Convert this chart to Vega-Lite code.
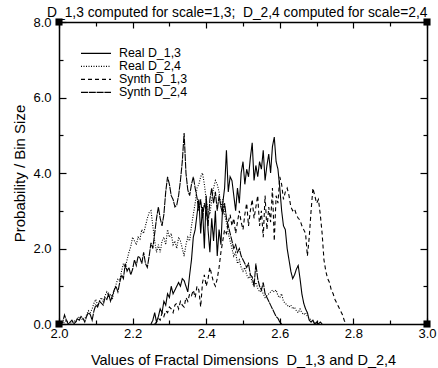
{
  "$schema": "https://vega.github.io/schema/vega-lite/v6.json",
  "width": 368,
  "height": 302,
  "autosize": "none",
  "padding": {"left": 59, "top": 22, "right": 11, "bottom": 44},
  "background": "white",
  "config": {
    "view": {"stroke": null},
    "font": "Liberation Sans",
    "axis": {
      "domainColor": "black", "domainWidth": 1.5, "tickColor": "black", "tickWidth": 1.2,
      "grid": false, "labelFont": "Liberation Sans", "labelFontSize": 13, "labelColor": "black",
      "titleFont": "Liberation Sans", "titleFontWeight": "normal", "titleColor": "black"
    }
  },
  "title": {
    "text": "D_1,3 computed for scale=1,3;\u00a0 D_2,4 computed for scale=2,4",
    "anchor": "start", "frame": "group", "dx": -12, "offset": -4,
    "font": "Liberation Sans", "fontSize": 13.8, "fontWeight": "normal", "color": "black"
  },
  "datasets": {
    "hist": [
      {"x":2.000,"b":0,"d":0},{"x":2.005,"b":0,"d":0},{"x":2.010,"b":0,"d":0.05},{"x":2.015,"b":0.05,"d":0.24},
      {"x":2.020,"b":0.1,"d":0.1},{"x":2.025,"b":0.05,"d":0},{"x":2.030,"b":0,"d":0.05},{"x":2.035,"b":0.05,"d":0.1},
      {"x":2.040,"b":0.1,"d":0},{"x":2.045,"b":0.05,"d":0.05},{"x":2.050,"b":0.1,"d":0.15},{"x":2.055,"b":0.2,"d":0.1},
      {"x":2.060,"b":0.15,"d":0.2},{"x":2.065,"b":0.1,"d":0.15},{"x":2.070,"b":0.15,"d":0.05},{"x":2.075,"b":0.25,"d":0.2},
      {"x":2.080,"b":0.35,"d":0.3},{"x":2.085,"b":0.3,"d":0.25},{"x":2.090,"b":0.4,"d":0.1},{"x":2.095,"b":0.55,"d":0.35},
      {"x":2.100,"b":0.65,"d":0.5},{"x":2.105,"b":0.5,"d":0.45},{"x":2.110,"b":0.6,"d":0.6},{"x":2.115,"b":0.7,"d":0.55},
      {"x":2.120,"b":0.6,"d":0.5},{"x":2.125,"b":0.75,"d":0.7},{"x":2.130,"b":0.85,"d":0.65},{"x":2.135,"b":0.7,"d":0.8},
      {"x":2.140,"b":0.8,"d":0.6},{"x":2.145,"b":0.65,"d":0.75},{"x":2.150,"b":0.9,"d":0.9},{"x":2.155,"b":1.05,"d":1.0},
      {"x":2.160,"b":1.2,"d":0.85},{"x":2.165,"b":1.15,"d":1.1},{"x":2.170,"b":1.4,"d":1.3},{"x":2.175,"b":1.6,"d":1.2},
      {"x":2.180,"b":1.5,"d":1.6},{"x":2.185,"b":1.7,"d":1.4},{"x":2.190,"b":1.9,"d":1.5},{"x":2.195,"b":2.05,"d":1.3},
      {"x":2.200,"b":2.3,"d":1.45},{"x":2.205,"b":2.2,"d":1.7},{"x":2.210,"b":2.1,"d":1.55},{"x":2.215,"b":2.3,"d":1.8},
      {"x":2.220,"b":2.25,"d":1.75},{"x":2.225,"b":2.5,"d":1.6},{"x":2.230,"b":2.4,"d":1.9},{"x":2.235,"b":2.6,"d":1.6},
      {"x":2.240,"b":2.8,"d":1.5},{"x":2.245,"b":2.95,"d":1.8},
      {"x":2.250,"b":3.0,"d":2.15,"a":0},{"x":2.255,"b":2.6,"d":2.0,"a":0.1},
      {"x":2.260,"b":2.2,"d":2.4,"a":0.3,"c":0},{"x":2.265,"b":1.9,"d":2.8,"a":0.05,"c":0.05},
      {"x":2.270,"b":2.1,"d":3.1,"a":0.2,"c":0.15},{"x":2.275,"b":1.9,"d":2.8,"a":0.4,"c":0.1},
      {"x":2.280,"b":2.2,"d":2.6,"a":0.3,"c":0.3},{"x":2.285,"b":2.3,"d":2.9,"a":0.6,"c":0.2},
      {"x":2.290,"b":2.1,"d":3.5,"a":0.5,"c":0.35},{"x":2.295,"b":2.5,"d":3.9,"a":0.8,"c":0.3},
      {"x":2.300,"b":2.3,"d":3.7,"a":0.7,"c":0.45},{"x":2.305,"b":2.4,"d":3.4,"a":1.0,"c":0.4},
      {"x":2.310,"b":2.1,"d":3.3,"a":0.8,"c":0.3},{"x":2.315,"b":2.2,"d":3.1,"a":0.9,"c":0.5},
      {"x":2.320,"b":2.0,"d":3.15,"a":1.0,"c":0.55},{"x":2.325,"b":2.3,"d":3.4,"a":1.1,"c":0.4},
      {"x":2.330,"b":2.2,"d":3.8,"a":1.0,"c":0.6},{"x":2.335,"b":2.0,"d":4.3,"a":1.2,"c":0.5},
      {"x":2.340,"b":1.8,"d":5.06,"a":1.15,"c":0.45},{"x":2.345,"b":2.1,"d":4.0,"a":1.0,"c":0.7},
      {"x":2.350,"b":2.3,"d":3.55,"a":0.85,"c":0.6},{"x":2.355,"b":2.2,"d":3.4,"a":1.3,"c":0.8},
      {"x":2.360,"b":2.6,"d":3.7,"a":1.7,"c":0.75},{"x":2.365,"b":2.9,"d":3.9,"a":2.3,"c":0.9},
      {"x":2.370,"b":3.2,"d":3.6,"a":2.5,"c":0.7},{"x":2.375,"b":3.6,"d":3.35,"a":2.9,"c":1.0},
      {"x":2.380,"b":3.7,"d":3.0,"a":3.3,"c":0.9},{"x":2.385,"b":3.9,"d":3.3,"a":2.4,"c":0.45},
      {"x":2.390,"b":4.0,"d":2.8,"a":3.1,"c":1.1},{"x":2.395,"b":3.7,"d":3.2,"a":2.0,"c":1.3},
      {"x":2.400,"b":3.3,"d":3.0,"a":3.4,"c":1.0},{"x":2.405,"b":3.0,"d":2.6,"a":2.5,"c":1.2},
      {"x":2.410,"b":2.9,"d":3.3,"a":1.9,"c":1.5},{"x":2.415,"b":3.3,"d":3.6,"a":2.8,"c":1.3},
      {"x":2.420,"b":3.6,"d":3.2,"a":2.2,"c":1.1},{"x":2.425,"b":3.8,"d":3.5,"a":3.0,"c":1.0},
      {"x":2.430,"b":3.7,"d":3.0,"a":1.8,"c":1.2},{"x":2.435,"b":3.5,"d":3.4,"a":2.5,"c":1.5},
      {"x":2.440,"b":3.1,"d":3.1,"a":2.1,"c":1.9},{"x":2.445,"b":3.3,"d":2.9,"a":3.2,"c":2.2},
      {"x":2.450,"b":2.9,"d":3.2,"a":3.6,"c":2.5},{"x":2.455,"b":2.7,"d":2.8,"a":4.6,"c":2.4},
      {"x":2.460,"b":2.4,"d":2.6,"a":3.5,"c":2.7},{"x":2.465,"b":2.2,"d":2.4,"a":3.9,"c":2.9},
      {"x":2.470,"b":2.0,"d":2.2,"a":3.8,"c":2.6},{"x":2.475,"b":1.8,"d":2.0,"a":3.4,"c":2.8},
      {"x":2.480,"b":1.9,"d":2.1,"a":3.0,"c":2.4},{"x":2.485,"b":1.6,"d":1.9,"a":3.6,"c":2.7},
      {"x":2.490,"b":1.7,"d":2.0,"a":3.2,"c":3.0},{"x":2.495,"b":1.5,"d":1.8,"a":4.0,"c":2.7},
      {"x":2.500,"b":1.4,"d":1.7,"a":4.3,"c":2.5},{"x":2.505,"b":1.5,"d":1.6,"a":3.7,"c":2.9},
      {"x":2.510,"b":1.3,"d":1.5,"a":4.1,"c":3.2},{"x":2.515,"b":1.2,"d":1.6,"a":3.9,"c":2.6},
      {"x":2.520,"b":1.3,"d":1.3,"a":4.4,"c":3.0},{"x":2.525,"b":1.1,"d":1.25,"a":4.8,"c":3.3},
      {"x":2.530,"b":1.0,"d":1.0,"a":3.8,"c":2.8},{"x":2.535,"b":1.1,"d":1.6,"a":4.2,"c":3.1},
      {"x":2.540,"b":0.95,"d":1.2,"a":3.9,"c":3.4},{"x":2.545,"b":0.85,"d":1.0,"a":4.3,"c":2.6},
      {"x":2.550,"b":0.9,"d":0.9,"a":4.1,"c":3.0},{"x":2.555,"b":0.8,"d":1.1,"a":4.6,"c":2.3},
      {"x":2.560,"b":0.7,"d":0.8,"a":3.8,"c":3.4},{"x":2.565,"b":0.75,"d":0.7,"a":4.2,"c":2.5},
      {"x":2.570,"b":0.8,"d":0.6,"a":4.5,"c":3.1},{"x":2.575,"b":0.85,"d":0.5,"a":4.0,"c":2.7},
      {"x":2.580,"b":0.9,"d":0.4,"a":4.7,"c":3.6},{"x":2.585,"b":0.85,"d":0.3,"a":4.95,"c":2.2},
      {"x":2.590,"b":0.9,"d":0.2,"a":4.3,"c":3.4},{"x":2.595,"b":0.75,"d":0.15,"a":4.1,"c":3.2},
      {"x":2.600,"b":0.7,"d":0.05,"a":3.6,"c":3.9},{"x":2.605,"b":0.8,"d":0,"a":3.0,"c":3.7},
      {"x":2.610,"b":0.6,"a":2.6,"c":3.3},{"x":2.615,"b":0.55,"a":2.5,"c":3.5},
      {"x":2.620,"b":0.5,"a":2.0,"c":3.6},{"x":2.625,"b":0.45,"a":1.7,"c":3.4},
      {"x":2.630,"b":0.5,"a":1.4,"c":3.1},{"x":2.635,"b":0.4,"a":1.2,"c":3.0},
      {"x":2.640,"b":0.45,"a":1.3,"c":3.05},{"x":2.645,"b":0.35,"a":1.45,"c":2.9},
      {"x":2.650,"b":0.3,"a":1.55,"c":2.8},{"x":2.655,"b":0.4,"a":1.2,"c":2.75},
      {"x":2.660,"b":0.3,"a":0.8,"c":2.6},{"x":2.665,"b":0.25,"a":0.55,"c":2.5},
      {"x":2.670,"b":0.3,"a":0.4,"c":2.4},{"x":2.675,"b":0.2,"a":0.3,"c":1.8},
      {"x":2.680,"b":0.15,"a":0.1,"c":2.3},{"x":2.685,"b":0.1,"a":0.05,"c":3.0},
      {"x":2.690,"b":0.05,"a":0.1,"c":3.6},{"x":2.695,"b":0.02,"a":0,"c":3.4},
      {"x":2.700,"b":0,"a":0.05,"c":3.2},{"x":2.705,"a":0,"c":3.3},
      {"x":2.710,"a":0.05,"c":2.9},{"x":2.715,"a":0,"c":2.4},
      {"x":2.720,"c":1.7},{"x":2.725,"c":1.4},{"x":2.730,"c":1.2},{"x":2.735,"c":1.1},
      {"x":2.740,"c":0.9},{"x":2.745,"c":0.8},{"x":2.750,"c":0.65},{"x":2.755,"c":0.55},
      {"x":2.760,"c":0.45},{"x":2.765,"c":0.35},{"x":2.770,"c":0.25},{"x":2.775,"c":0.1},{"x":2.780,"c":0}
    ],
    "corners": [
      {"x":2.0,"y":0},{"x":2.0,"y":8},{"x":3.0,"y":0},{"x":3.0,"y":8}
    ]
  },
  "resolve": {"axis": {"x": "independent", "y": "independent"}},
  "layer": [
    {
      "data": {"name": "hist"},
      "transform": [
        {"fold": ["a", "b", "c", "d"], "as": ["s", "y"]},
        {"filter": "datum.y != null"}
      ],
      "mark": {"type": "line", "color": "black", "strokeWidth": 1.1, "clip": true},
      "encoding": {
        "x": {
          "field": "x", "type": "quantitative",
          "scale": {"domain": [2, 3], "nice": false, "zero": false},
          "axis": {
            "orient": "bottom",
            "values": [2.0,2.1,2.2,2.3,2.4,2.5,2.6,2.7,2.8,2.9,3.0],
            "format": ".1f",
            "labelExpr": "round(datum.value*10)%2==0 ? datum.label : ''",
            "tickSize": {"condition": {"test": "round(datum.value*10)%2==0", "value": -6}, "value": -4},
            "labelPadding": 9,
            "labelFlush": false,
            "title": "Values of Fractal Dimensions\u00a0 D_1,3 and D_2,4",
            "titleFontSize": 14.5,
            "titlePadding": 13
          }
        },
        "y": {
          "field": "y", "type": "quantitative",
          "scale": {"domain": [0, 8], "nice": false},
          "axis": {
            "orient": "left",
            "values": [0,1,2,3,4,5,6,7,8],
            "format": ".1f",
            "labelExpr": "datum.value%2==0 ? datum.label : ''",
            "tickSize": {"condition": {"test": "datum.value%2==0", "value": -7}, "value": -4},
            "labelPadding": 15,
            "labelFlush": false,
            "title": "Probability / Bin Size",
            "titleFontSize": 15,
            "titlePadding": 5
          }
        },
        "strokeDash": {
          "field": "s", "type": "nominal",
          "scale": {"domain": ["a", "b", "c", "d"], "range": [[1, 0], [1, 1.5], [4, 3], [7, 0.8]]},
          "legend": {
            "orient": "none", "legendX": 21, "legendY": 25, "title": null, "padding": 0,
            "symbolType": "stroke", "symbolSize": 900, "symbolStrokeWidth": 1.2, "symbolStrokeColor": "black",
            "labelFont": "Liberation Sans", "labelFontSize": 12.4, "labelColor": "black", "labelOffset": 7,
            "rowPadding": 0, "clipHeight": 12.8,
            "labelExpr": "datum.label=='a' ? 'Real D_1,3' : datum.label=='b' ? 'Real D_2,4' : datum.label=='c' ? 'Synth D_1,3' : 'Synth D_2,4'"
          }
        }
      }
    },
    {
      "data": {"name": "corners"},
      "mark": {"type": "point", "shape": "square", "filled": true, "color": "black", "size": 50, "opacity": 1},
      "encoding": {
        "x": {
          "field": "x", "type": "quantitative",
          "axis": {
            "orient": "top", "values": [2.0,2.1,2.2,2.3,2.4,2.5,2.6,2.7,2.8,2.9,3.0],
            "labels": false, "title": null,
            "tickSize": {"condition": {"test": "round(datum.value*10)%2==0", "value": -6}, "value": -4}
          }
        },
        "y": {
          "field": "y", "type": "quantitative",
          "axis": {
            "orient": "right", "values": [0,1,2,3,4,5,6,7,8],
            "labels": false, "title": null,
            "tickSize": {"condition": {"test": "datum.value%2==0", "value": -7}, "value": -4}
          }
        }
      }
    }
  ]
}
